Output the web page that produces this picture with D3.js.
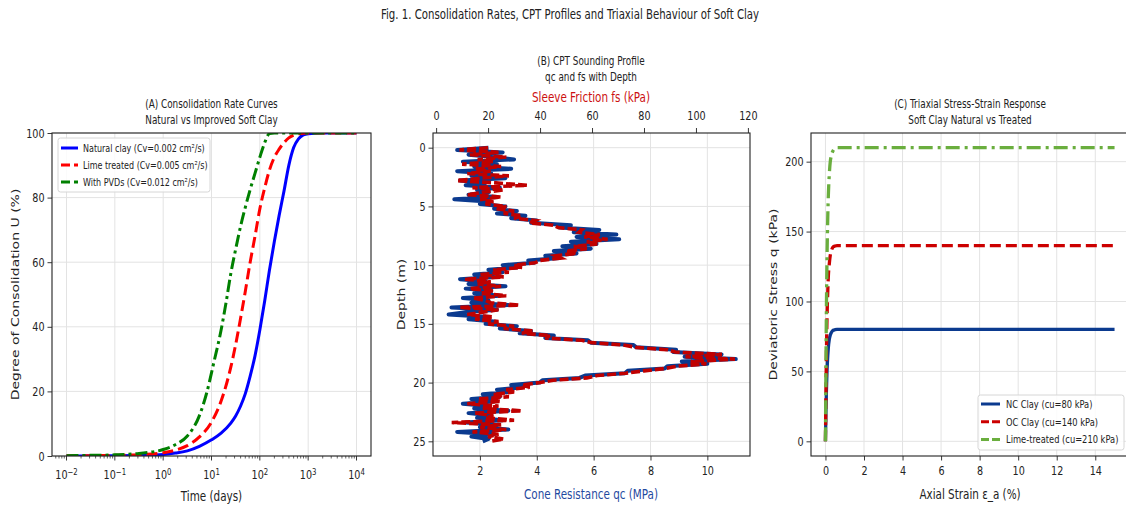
<!DOCTYPE html>
<html>
<head>
<meta charset="utf-8">
<script src="https://cdn.jsdelivr.net/npm/d3@7"></script>
<style>
body { margin: 0; background: #fff; }
svg { display: block; }
text { font-family: "DejaVu Sans", sans-serif; }
</style>
</head>
<body>
<svg id="chart" width="1126" height="506"></svg>
<script>
// ---- (A) consolidation curves ----
var tNatural = [0.01,0.0316,0.1,0.316,1,1.78,3.16,5.62,10,15.8,25.1,31.6,39.8,50.1,63.1,79.4,100,126,158,200,251,316,398,501,631,794,1000,2000,10000];
var uNatural = [0.03,0.05,0.1,0.2,0.5,0.9,1.6,3.0,5.0,7.1,10.2,12.4,15.4,19.3,24.7,31,39,48,57.5,66.5,74.5,82,90,95.5,98.2,99.4,99.8,100,100];
var tLime = [0.01,0.0316,0.1,0.316,1,1.78,3.16,5.62,10,15.8,25.1,31.6,39.8,50.1,63.1,79.4,100,126,158,200,251,316,398,501,631,1000,10000];
var uLime = [0.05,0.1,0.2,0.4,1.0,1.8,3.2,5.9,10.5,17,27.5,34.5,42.5,51,60,68,76.5,83,88.5,92.5,95,97,98.5,99.3,99.8,100,100];
var tPvd = [0.01,0.0316,0.1,0.316,1,1.78,3.16,5.62,7.94,11.2,15.8,20,25.1,31.6,39.8,50.1,63.1,79.4,100,126,158,200,1000,10000];
var uPvd = [0.1,0.2,0.35,0.8,2.0,3.5,6.2,12.5,19.5,29,39,47.5,56.5,64,71,77,82.5,87.5,92.5,97,99.8,100,100,100];
var timeTicks = [0.01,0.1,1,10,100,1000,10000];
var timeExp = ["\u22122","\u22121","0","1","2","3","4"];

// ---- (B) CPT sounding, 0.2 m steps from 0 to 25 m ----
var depthStep = 0.2;
var qc = [2.3,1.2,2.8,1.6,2.5,3.2,1.4,2.6,1.8,3.1,1.2,2.4,1.7,2.9,1.3,2.2,1.5,2.7,1.9,2.3,
  1.6,2.6,1.1,2.4,2.0,2.9,2.5,3.3,2.6,3.6,3.1,4.0,3.8,5.2,4.8,6.2,5.3,6.8,5.4,6.9,
  5.2,6.1,4.9,5.9,4.6,5.4,4.3,4.8,3.7,3.9,2.8,3.3,2.3,2.8,1.8,2.5,1.3,2.2,1.6,2.9,
  1.5,2.4,1.8,2.7,1.4,2.3,1.7,3.0,1.0,2.6,1.5,0.9,2.2,1.6,2.5,2.2,3.3,2.7,3.8,3.4,
  4.6,4.3,5.8,5.9,7.4,7.5,8.9,8.8,10.5,9.2,11.0,9.1,10.0,8.6,8.5,7.2,7.1,5.7,5.5,4.2,
  4.1,3.1,3.5,2.6,3.0,2.1,2.7,1.7,2.5,1.4,2.3,1.8,3.0,1.6,2.4,1.9,2.8,1.5,2.6,2.0,
  3.0,1.2,2.5,1.7,2.3,2.1];
var fs = [20,9,24,13,27,16,22,10,25,15,21,12,28,17,8,23,35,14,26,18,
  12,25,17,22,19,27,23,30,26,33,30,38,36,45,47,56,55,63,57,66,
  58,62,53,58,50,54,46,48,40,38,30,33,22,28,17,26,11,21,16,25,
  13,22,17,27,14,19,21,32,9,24,18,12,22,15,24,20,30,26,37,33,
  44,42,56,60,72,77,89,92,110,96,115,98,104,93,88,80,73,62,58,45,
  40,33,36,27,30,22,28,16,25,12,24,18,33,15,22,19,30,6,25,17,
  27,14,24,20,26,21];
var qcTicks = [2,4,6,8,10];
var fsTicks = [0,20,40,60,80,100,120];
var depthTicks = [0,5,10,15,20,25];

// ---- (C) triaxial stress-strain ----
var strain = [0,0.02,0.05,0.08,0.1,0.15,0.2,0.25,0.3,0.4,0.5,0.6,0.8,1,2,5,10,15];
var qNC = [0,17,36,50,56,67,73,76,77.6,79.4,79.8,80,80,80,80,80,80,80];
var qOC = [0,29,63,87,98,118,127,133,136,139,139.7,140,140,140,140,140,140,140];
var qLime = [0,44,95,130,147,176,191,200,204,208,209.6,210,210,210,210,210,210,210];
var strainTicks = [0,2,4,6,8,10,12,14];
var qTicks = [0,50,100,150,200];

var SX = 0.77; // the reference text is squeezed horizontally
var INK = "#222";
var TICK = 12.5;
var svg = d3.select("#chart");

function label(g, x, y, s, o) {
  o = o || {};
  return g.append("text")
    .attr("transform", "translate(" + x + "," + y + ") scale(" + SX + ",1)" + (o.rotate ? " rotate(-90)" : ""))
    .attr("text-anchor", o.anchor || "middle")
    .attr("font-size", o.size || 11.5)
    .attr("fill", o.fill || INK)
    .text(s);
}

function styleAxis(g) {
  g.select(".domain").remove();
  g.selectAll(".tick line").attr("stroke", INK).attr("stroke-width", 0.9);
  g.selectAll(".tick text").attr("font-size", TICK).attr("fill", INK)
    .attr("font-family", "DejaVu Sans")
    .each(function() {
      var t = d3.select(this);
      t.attr("x", (+t.attr("x") || 0) / SX).attr("transform", "scale(" + SX + ",1)");
    });
}

function gridX(g, x, vals, top, bottom) {
  g.selectAll(null).data(vals).enter().append("line")
    .attr("x1", function(d) { return x(d); }).attr("x2", function(d) { return x(d); })
    .attr("y1", top).attr("y2", bottom)
    .attr("stroke", "#e3e3e3").attr("stroke-width", 1);
}
function gridY(g, y, vals, left, right) {
  g.selectAll(null).data(vals).enter().append("line")
    .attr("y1", function(d) { return y(d); }).attr("y2", function(d) { return y(d); })
    .attr("x1", left).attr("x2", right)
    .attr("stroke", "#e3e3e3").attr("stroke-width", 1);
}
function frame(g, l, t, r, b) {
  g.append("rect").attr("x", l).attr("y", t).attr("width", r - l).attr("height", b - t)
    .attr("fill", "none").attr("stroke", INK).attr("stroke-width", 1.1);
}
function clip(id, l, t, r, b) {
  svg.append("clipPath").attr("id", id).append("rect")
    .attr("x", l).attr("y", t).attr("width", r - l).attr("height", b - t);
}
function zip(a, b) { return a.map(function(v, i) { return [v, b[i]]; }); }

label(svg, 570, 19, "Fig. 1. Consolidation Rates, CPT Profiles and Triaxial Behaviour of Soft Clay", { size: 13.2 });

// ================= (A) =================
var A = { l: 52, t: 133, r: 371, b: 456 };
var gA = svg.append("g");
var xA = d3.scaleLog().domain([Math.pow(10, -2.3), Math.pow(10, 4.3)]).range([A.l, A.r]);
var yA = d3.scaleLinear().domain([0, 100]).range([A.b, A.t]);

gridX(gA, xA, timeTicks, A.t, A.b);
gridY(gA, yA, d3.range(0, 101, 20), A.l, A.r);
clip("clipA", A.l, A.t, A.r, A.b);

var lineA = d3.line().x(function(d) { return xA(d[0]); }).y(function(d) { return yA(d[1]); })
  .curve(d3.curveMonotoneX);
var seriesA = [
  { name: "Natural clay (Cv=0.002 cm\u00b2/s)", t: tNatural, u: uNatural, color: "#0000ff", dash: null },
  { name: "Lime treated (Cv=0.005 cm\u00b2/s)", t: tLime, u: uLime, color: "#ff0000", dash: "11,5" },
  { name: "With PVDs (Cv=0.012 cm\u00b2/s)", t: tPvd, u: uPvd, color: "#008000", dash: "12,4,3,4" }
];
gA.append("g").attr("clip-path", "url(#clipA)").selectAll("path").data(seriesA).enter().append("path")
  .attr("d", function(s) { return lineA(zip(s.t, s.u)); })
  .attr("fill", "none").attr("stroke", function(s) { return s.color; })
  .attr("stroke-width", 3).attr("stroke-dasharray", function(s) { return s.dash; });

frame(gA, A.l, A.t, A.r, A.b);

var minor = xA.ticks().filter(function(d) { return timeTicks.indexOf(d) < 0 && d >= xA.domain()[0] && d <= xA.domain()[1]; });
gA.selectAll(".minor").data(minor).enter().append("line")
  .attr("x1", function(d) { return xA(d); }).attr("x2", function(d) { return xA(d); })
  .attr("y1", A.b).attr("y2", A.b + 2.5).attr("stroke", INK).attr("stroke-width", 0.7);
gA.selectAll(".major").data(timeTicks).enter().append("line")
  .attr("x1", function(d) { return xA(d); }).attr("x2", function(d) { return xA(d); })
  .attr("y1", A.b).attr("y2", A.b + 4.5).attr("stroke", INK).attr("stroke-width", 0.9);
timeTicks.forEach(function(d, i) {
  var t = label(gA, xA(d), 479, "10", { size: TICK });
  t.append("tspan").attr("dy", "-0.45em").attr("font-size", "0.72em").text(timeExp[i]);
});

var axA = gA.append("g").attr("transform", "translate(" + A.l + ",0)")
  .call(d3.axisLeft(yA).tickValues(d3.range(0, 101, 20)).tickSizeInner(4.5).tickSizeOuter(0).tickPadding(3));
styleAxis(axA);

label(gA, (A.l + A.r) / 2, 108, "(A) Consolidation Rate Curves", { size: 11.5 });
label(gA, (A.l + A.r) / 2, 124, "Natural vs Improved Soft Clay", { size: 11.5 });
label(gA, (A.l + A.r) / 2, 501, "Time (days)", { size: 13.5 });
label(gA, 19, (A.t + A.b) / 2, "Degree of Consolidation U (%)", { size: 14, rotate: true });

// legend A
var lgA = gA.append("g");
lgA.append("rect").attr("x", 58).attr("y", 138).attr("width", 152).attr("height", 54).attr("rx", 2.5)
  .attr("fill", "#fff").attr("fill-opacity", 0.85).attr("stroke", "#d6d6d6");
seriesA.forEach(function(s, i) {
  var y = 148 + i * 17;
  lgA.append("line").attr("x1", 61).attr("x2", 78).attr("y1", y).attr("y2", y)
    .attr("stroke", s.color).attr("stroke-width", 3).attr("stroke-dasharray", s.dash ? "9,4" : null);
  label(lgA, 83, y + 3.7, s.name, { size: 10.4, anchor: "start" });
});

// ================= (B) =================
var B = { l: 433, t: 133, r: 750, b: 456 };
var gB = svg.append("g");
var xQc = d3.scaleLinear().domain([0.35, 11.5]).range([B.l, B.r]);
var xFs = d3.scaleLinear().domain([-1.2, 120.8]).range([B.l, B.r]);
var yD = d3.scaleLinear().domain([-1.25, 26.25]).range([B.t, B.b]);
var depth = qc.map(function(d, i) { return +(i * depthStep).toFixed(1); });

gridX(gB, xQc, qcTicks, B.t, B.b);
gridY(gB, yD, depthTicks, B.l, B.r);
clip("clipB", B.l, B.t, B.r, B.b);

var gBd = gB.append("g").attr("clip-path", "url(#clipB)");
gBd.append("path")
  .attr("d", d3.line().x(function(d) { return xQc(d[0]); }).y(function(d) { return yD(d[1]); })(zip(qc, depth)))
  .attr("fill", "none").attr("stroke", "#0b3a8f").attr("stroke-width", 4).attr("stroke-linejoin", "round");
gBd.append("path")
  .attr("d", d3.line().x(function(d) { return xFs(d[0]); }).y(function(d) { return yD(d[1]); })(zip(fs, depth)))
  .attr("fill", "none").attr("stroke", "#c00000").attr("stroke-width", 3.6).attr("stroke-dasharray", "9,3");

frame(gB, B.l, B.t, B.r, B.b);

var axBb = gB.append("g").attr("transform", "translate(0," + B.b + ")")
  .call(d3.axisBottom(xQc).tickValues(qcTicks).tickSizeInner(4.5).tickSizeOuter(0).tickPadding(6));
styleAxis(axBb);
var axBt = gB.append("g").attr("transform", "translate(0," + B.t + ")")
  .call(d3.axisTop(xFs).tickValues(fsTicks).tickSizeInner(5).tickSizeOuter(0).tickPadding(8));
styleAxis(axBt);
var axBl = gB.append("g").attr("transform", "translate(" + B.l + ",0)")
  .call(d3.axisLeft(yD).tickValues(depthTicks).tickSizeInner(4.5).tickSizeOuter(0).tickPadding(3));
styleAxis(axBl);

label(gB, 591, 65, "(B) CPT Sounding Profile", { size: 11.5 });
label(gB, 591, 81, "qc and fs with Depth", { size: 11.5 });
label(gB, 591, 102, "Sleeve Friction fs (kPa)", { size: 13.5, fill: "#cc1010" });
label(gB, 591, 499, "Cone Resistance qc (MPa)", { size: 13.5, fill: "#1f4aa0" });
label(gB, 405, (B.t + B.b) / 2, "Depth (m)", { size: 14, rotate: true });

// ================= (C) =================
var C = { l: 811, t: 133, r: 1129, b: 456 };
var gC = svg.append("g");
var xC = d3.scaleLinear().domain([-0.75, 15.75]).range([C.l, C.r]);
var yC = d3.scaleLinear().domain([-10.5, 220.5]).range([C.b, C.t]);

gridX(gC, xC, strainTicks, C.t, C.b);
gridY(gC, yC, qTicks, C.l, C.r);
clip("clipC", C.l, C.t, C.r, C.b);

var lineC = d3.line().x(function(d) { return xC(d[0]); }).y(function(d) { return yC(d[1]); })
  .curve(d3.curveMonotoneX);
var seriesC = [
  { name: "NC Clay (cu=80 kPa)", q: qNC, color: "#0b3a8f", dash: null },
  { name: "OC Clay (cu=140 kPa)", q: qOC, color: "#cc0000", dash: "11,5" },
  { name: "Lime-treated (cu=210 kPa)", q: qLime, color: "#6aae3e", dash: "14,5,3,5" }
];
gC.append("g").attr("clip-path", "url(#clipC)").selectAll("path").data(seriesC).enter().append("path")
  .attr("d", function(s) { return lineC(zip(strain, s.q)); })
  .attr("fill", "none").attr("stroke", function(s) { return s.color; })
  .attr("stroke-width", 3.3).attr("stroke-dasharray", function(s) { return s.dash; });

frame(gC, C.l, C.t, C.r, C.b);

var axCb = gC.append("g").attr("transform", "translate(0," + C.b + ")")
  .call(d3.axisBottom(xC).tickValues(strainTicks).tickSizeInner(4.5).tickSizeOuter(0).tickPadding(6));
styleAxis(axCb);
var axCl = gC.append("g").attr("transform", "translate(" + C.l + ",0)")
  .call(d3.axisLeft(yC).tickValues(qTicks).tickSizeInner(4.5).tickSizeOuter(0).tickPadding(3));
styleAxis(axCl);

label(gC, (C.l + C.r) / 2, 108, "(C) Triaxial Stress-Strain Response", { size: 11.5 });
label(gC, (C.l + C.r) / 2, 124, "Soft Clay Natural vs Treated", { size: 11.5 });
label(gC, (C.l + C.r) / 2, 499, "Axial Strain \u03b5_a (%)", { size: 13.5 });
label(gC, 777, (C.t + C.b) / 2, "Deviatoric Stress q (kPa)", { size: 14, rotate: true });

var lgC = gC.append("g");
lgC.append("rect").attr("x", 978).attr("y", 395).attr("width", 146).attr("height", 55).attr("rx", 2.5)
  .attr("fill", "#fff").attr("fill-opacity", 0.85).attr("stroke", "#d6d6d6");
seriesC.forEach(function(s, i) {
  var y = 404 + i * 17.8;
  lgC.append("line").attr("x1", 981).attr("x2", 1000).attr("y1", y).attr("y2", y)
    .attr("stroke", s.color).attr("stroke-width", 3).attr("stroke-dasharray", s.dash ? "8,3" : null);
  label(lgC, 1006, y + 3.7, s.name, { size: 10.8, anchor: "start" });
});
</script>
</body>
</html>
